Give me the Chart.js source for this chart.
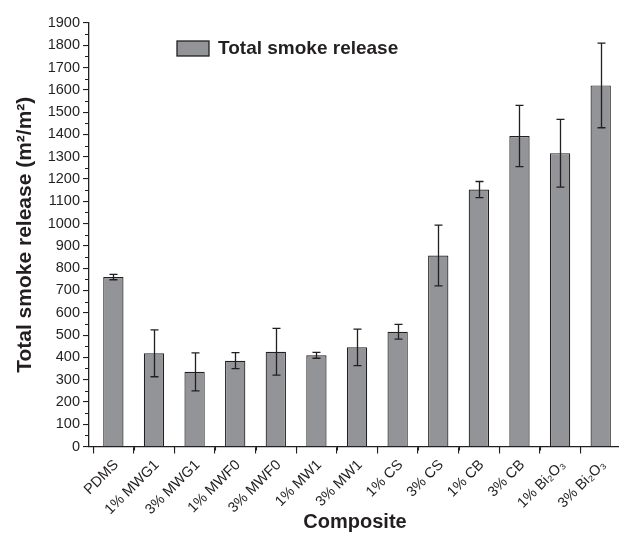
<!DOCTYPE html>
<html>
<head>
<meta charset="utf-8">
<script src="https://cdn.jsdelivr.net/npm/chart.js@4"></script>
<style>
  html, body { margin: 0; padding: 0; background: #ffffff; overflow: hidden; }
  #wrap { position: absolute; left: 0; top: 0; width: 619px; height: 549px; overflow: hidden; }
  canvas { display: block; }
</style>
</head>
<body>
<div id="wrap"><canvas id="c" width="621" height="549"></canvas></div>
<script>
// Composites tested
const categories = ['PDMS', '1% MWG1', '3% MWG1', '1% MWF0', '3% MWF0', '1% MW1', '3% MW1',
                    '1% CS', '3% CS', '1% CB', '3% CB', '1% Bi\u2082O\u2083', '3% Bi\u2082O\u2083'];
// Total smoke release, m²/m²
const smokeRelease = [760, 418, 335, 385, 425, 409, 445, 515, 857, 1153, 1393, 1316, 1620];
// Standard deviation of each measurement
const smokeError = [12, 105, 85, 36, 105, 13, 82, 33, 136, 36, 137, 152, 190];
// Y axis range
const yTicks = { min: 0, max: 1900, step: 100 };

const INK = '#231f20';
const BAR = '#939498';
const FONT = '"Liberation Sans", Arial, Helvetica, sans-serif';

// Bars placed at category index positions on a numeric axis
const barPoints = smokeRelease.map((v, i) => ({ x: i, y: v }));

// Error bars, drawn through the chart's own scales
const errorBars = {
  id: 'errorBars',
  afterDatasetsDraw(chart) {
    const ctx = chart.ctx;
    const x = chart.scales.x, y = chart.scales.y;
    ctx.save();
    ctx.strokeStyle = INK;
    ctx.lineWidth = 1.3;
    smokeRelease.forEach((v, i) => {
      const e = smokeError[i];
      const top = y.getPixelForValue(v + e);
      const bot = y.getPixelForValue(v - e);
      const px = Math.round(x.getPixelForValue(i)) + 0.5, cap = 4;
      ctx.beginPath();
      ctx.moveTo(px, top); ctx.lineTo(px, bot);
      ctx.moveTo(px - cap, top); ctx.lineTo(px + cap, top);
      ctx.moveTo(px - cap, bot); ctx.lineTo(px + cap, bot);
      ctx.stroke();
    });
    ctx.restore();
  }
};

// Minor ticks between the labelled ones on both axes
const minorTicks = {
  id: 'minorTicks',
  afterDraw(chart) {
    const ctx = chart.ctx;
    const x = chart.scales.x, y = chart.scales.y;
    const area = chart.chartArea;
    ctx.save();
    ctx.strokeStyle = INK;
    ctx.lineWidth = 1.1;
    ctx.beginPath();
    for (let v = yTicks.min + yTicks.step / 2; v < yTicks.max; v += yTicks.step) {
      const py = Math.round(y.getPixelForValue(v)) + 0.5;
      ctx.moveTo(area.left, py); ctx.lineTo(area.left - 4, py);
    }
    for (let i = 0; i <= categories.length; i++) {
      const px = Math.round(x.getPixelForValue(i - 0.5)) + 0.5;
      ctx.moveTo(px, area.bottom); ctx.lineTo(px, area.bottom + 4);
    }
    ctx.stroke();
    ctx.restore();
  }
};

// Legend inside the plot area
const insideLegend = {
  id: 'insideLegend',
  afterDraw(chart) {
    const ctx = chart.ctx;
    const ds = chart.data.datasets[0];
    ctx.save();
    ctx.fillStyle = ds.backgroundColor;
    ctx.strokeStyle = INK;
    ctx.lineWidth = 1.3;
    ctx.fillRect(177, 41, 32, 15);
    ctx.strokeRect(177, 41, 32, 15);
    ctx.fillStyle = INK;
    ctx.font = 'bold 19px ' + FONT;
    ctx.textBaseline = 'middle';
    ctx.fillText(ds.label, 218, 49);
    ctx.restore();
  }
};

new Chart(document.getElementById('c'), {
  type: 'bar',
  data: {
    datasets: [{
      label: 'Total smoke release',
      data: barPoints,
      backgroundColor: BAR,
      borderColor: INK,
      borderWidth: 1.2,
      barPercentage: 0.5,
      categoryPercentage: 1.0
    }]
  },
  options: {
    responsive: false,
    animation: false,
    devicePixelRatio: 1,
    layout: { padding: { top: 23, left: 0, right: 0, bottom: 0 } },
    plugins: { legend: { display: false }, tooltip: { enabled: false } },
    scales: {
      x: {
        type: 'linear',
        min: -0.6, max: 12.5,
        offset: false,
        afterBuildTicks(scale) { scale.ticks = categories.map((_, i) => ({ value: i })); },
        afterFit(scale) { scale.height = 102.5; },
        grid: { display: true, drawOnChartArea: false, drawTicks: true, tickLength: 7, color: INK, lineWidth: 1.1 },
        border: { display: true, color: INK, width: 1.3 },
        ticks: {
          autoSkip: false, minRotation: 45, maxRotation: 45, padding: 3, labelOffset: 3,
          color: INK, font: { family: FONT, size: 14.5 },
          callback: (v) => categories[v]
        },
        title: {
          display: true, text: 'Composite', color: INK,
          font: { family: FONT, size: 20, weight: 'bold', lineHeight: 1.2 },
          padding: { top: 0, bottom: 15 }
        }
      },
      y: {
        min: yTicks.min, max: yTicks.max,
        afterFit(scale) { scale.width = 89; },
        grid: { display: true, drawOnChartArea: false, drawTicks: true, tickLength: 6, color: INK, lineWidth: 1.1 },
        border: { display: true, color: INK, width: 1.3 },
        ticks: {
          stepSize: yTicks.step, padding: 3, color: INK,
          font: { family: FONT, size: 14.5 },
          callback: (v) => String(v)
        },
        title: {
          display: true, text: 'Total smoke release (m\u00b2/m\u00b2)', color: INK,
          font: { family: FONT, size: 21, weight: 'bold', lineHeight: 1.2 },
          padding: { top: 13, bottom: 0 }
        }
      }
    }
  },
  plugins: [errorBars, minorTicks, insideLegend]
});
</script>
</body>
</html>
